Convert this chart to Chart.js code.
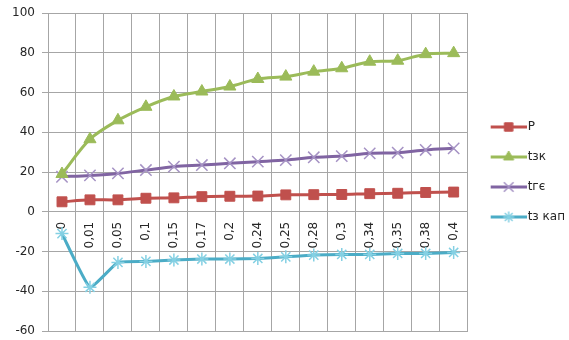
<!DOCTYPE html>
<html><head><meta charset="utf-8">
<script src="https://cdn.jsdelivr.net/npm/chart.js@4/dist/chart.umd.min.js"></script>
<style>html,body{margin:0;padding:0;background:#fff;} #wrap{width:569px;height:340px;}</style>
</head><body><div id="wrap"><canvas id="c" width="569" height="340"></canvas></div>
<script>
const categories = ['0','0,01','0,05','0,1','0,15','0,17','0,2','0,24','0,25','0,28','0,3','0,34','0,35','0,38','0,4'];
const seriesNames = ['P','tзк','tгє','tз кап'];
const valuesP     = [5.0, 6.0, 6.0, 6.8, 7.0, 7.6, 7.8, 7.9, 8.5, 8.6, 8.7, 9.1, 9.3, 9.7, 9.9];
const valuesTzk   = [19, 36.5, 46, 52.8, 58, 60.5, 63, 66.8, 68, 70.5, 72.2, 75.5, 76, 79.3, 79.8];
const valuesTge   = [17.6, 18.3, 19.3, 21, 22.7, 23.5, 24.4, 25.2, 26, 27.4, 28, 29.4, 29.7, 31.1, 31.9];
const valuesTzkap = [-11, -38, -25.5, -25, -24.3, -23.8, -23.8, -23.5, -22.7, -21.8, -21.5, -21.5, -21, -21, -20.5];
const yMin = -60, yMax = 100, yStep = 20;

const FONT = { family: 'DejaVu Sans', size: 12 };
const TEXT = '#262626';
const GRID = '#a6a6a6';

const styles = [
  {line:'#c0504d', fill:'#c0504d', stroke:'#c0504d', point:'rect', r:7, bw:1, t:0.3},
  {line:'#9bbb59', fill:'#9bbb59', stroke:'#9bbb59', point:'triangle', r:7, bw:1, t:0.3},
  {line:'#8064a2', fill:'rgba(0,0,0,0)', stroke:'#a592c4', point:'crossRot', r:8, bw:1.5, t:0.3},
  {line:'#4bacc6', fill:'rgba(0,0,0,0)', stroke:'#84d0e3', point:'star', r:6.5, bw:1.5, t:0.12}
];

function legendIcon(s) {
  const c = document.createElement('canvas');
  c.width = 46; c.height = 18;
  const ctx = c.getContext('2d');
  ctx.strokeStyle = s.line; ctx.lineWidth = 3;
  ctx.beginPath(); ctx.moveTo(10, 9); ctx.lineTo(46, 9); ctx.stroke();
  ctx.fillStyle = s.fill; ctx.strokeStyle = s.stroke; ctx.lineWidth = s.bw;
  Chart.helpers.drawPoint(ctx, {pointStyle: s.point, radius: s.r * 0.85, borderWidth: s.bw, rotation: 0}, 28, 9);
  return c;
}
const icons = styles.map(legendIcon);

const allValues = [valuesP, valuesTzk, valuesTge, valuesTzkap];
const datasets = allValues.map((vals, i) => ({
  label: seriesNames[i],
  data: vals,
  borderColor: styles[i].line,
  backgroundColor: styles[i].line,
  borderWidth: 3,
  tension: styles[i].t,
  pointStyle: styles[i].point,
  pointRadius: styles[i].r,
  pointHoverRadius: styles[i].r,
  pointBackgroundColor: styles[i].fill,
  pointBorderColor: styles[i].stroke,
  pointBorderWidth: styles[i].bw
}));

function hairline(ctx, x1, y1, x2, y2) {
  if ([x1, y1, x2, y2].some(v => !isFinite(v))) return;
  if (Math.abs(x1 - x2) < 0.01) {
    ctx.fillRect(Math.floor(x1), Math.min(y1, y2), 1, Math.max(Math.abs(y2 - y1), 1));
  } else {
    ctx.fillRect(Math.min(x1, x2), Math.floor(y1), Math.abs(x2 - x1), 1);
  }
}

// grid of the axes (same positions as the scales' own grid) and the category
// labels placed along the 0 line, painted beneath the series
const underSeries = {
  id: 'underSeries',
  beforeDatasetsDraw(chart) {
    const ctx = chart.ctx;
    ctx.save();
    ctx.globalAlpha = 1;
    ctx.globalCompositeOperation = 'source-over';
    ctx.fillStyle = GRID;
    ['x', 'y'].forEach(id => {
      const s = chart.scales[id];
      let items = s._gridLineItems;
      try { if (!items) items = s._computeGridLineItems(chart.chartArea); } catch (e) { items = []; }
      (items || []).forEach(it => {
        hairline(ctx, it.x1, it.y1, it.x2, it.y2);
        if (id === 'y') hairline(ctx, it.tx1, it.ty1, it.tx2, it.ty2);
      });
    });
    const xs = chart.scales.x, ys = chart.scales.y;
    const y0 = ys.getPixelForValue(0);
    ctx.fillStyle = TEXT;
    ctx.font = FONT.size + 'px "' + FONT.family + '"';
    ctx.textAlign = 'right';
    ctx.textBaseline = 'middle';
    categories.forEach((lab, i) => {
      const x = xs.getPixelForTick(i);
      ctx.save();
      ctx.translate(x, y0 + 10);
      ctx.rotate(-Math.PI / 2);
      ctx.fillText(lab, 0, 0);
      ctx.restore();
    });
    ctx.restore();
  }
};

new Chart(document.getElementById('c'), {
  type: 'line',
  data: { labels: categories, datasets },
  plugins: [underSeries],
  options: {
    responsive: false,
    animation: false,
    layout: { autoPadding: false, padding: { top: 13, bottom: 9, left: 12, right: -6 } },
    plugins: {
      tooltip: { enabled: false },
      legend: {
        position: 'right',
        labels: {
          usePointStyle: true,
          pointStyleWidth: 36,
          padding: 18,
          color: TEXT,
          font: FONT,
          generateLabels: (chart) => {
            const items = Chart.defaults.plugins.legend.labels.generateLabels(chart);
            items.forEach((it, i) => { it.pointStyle = icons[i]; it.fontColor = TEXT; });
            return items;
          }
        }
      }
    },
    scales: {
      x: {
        position: 'bottom',
        offset: true,
        afterFit: (scale) => { scale.height = 0; scale.paddingLeft = 0; scale.paddingRight = 0; },
        grid: { offset: true, color: GRID, lineWidth: 1, drawTicks: false },
        border: { color: GRID },
        ticks: { display: false, autoSkip: false }
      },
      y: {
        min: yMin, max: yMax,
        afterFit: (scale) => { scale.width = 36; scale.paddingTop = 0; scale.paddingBottom = 0; },
        grid: { color: GRID, lineWidth: 1, tickLength: 6 },
        border: { color: GRID },
        ticks: { stepSize: yStep, padding: 7, color: TEXT, font: FONT }
      }
    }
  }
});
</script>
</body></html>
